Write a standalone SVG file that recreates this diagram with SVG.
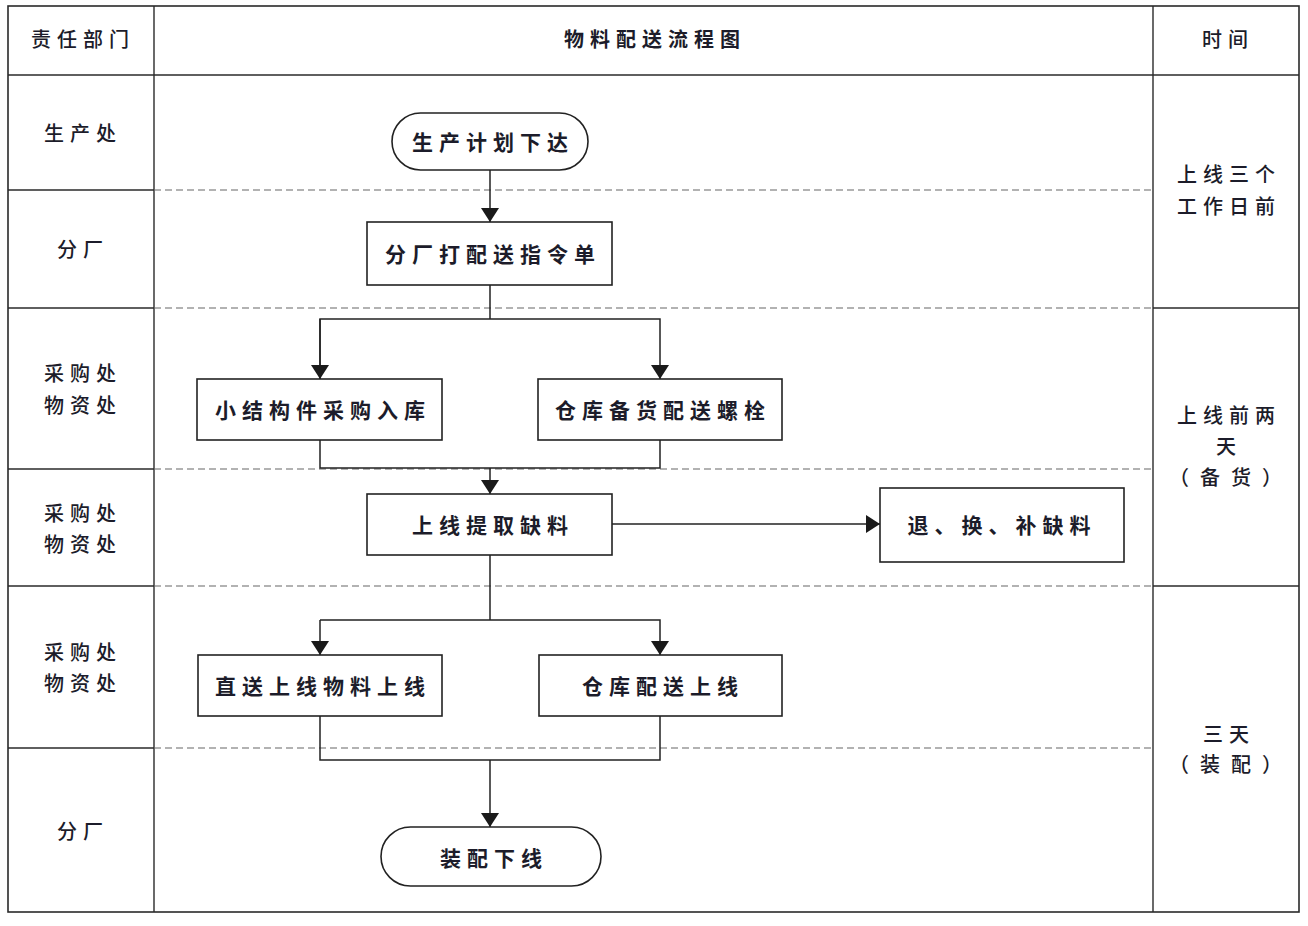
<svg xmlns="http://www.w3.org/2000/svg" width="1308" height="926" viewBox="0 0 1308 926">
<style>
.frame{fill:none;stroke:#2a2a2a;stroke-width:1.6}
.grid{stroke:#2a2a2a;stroke-width:1.4}
.dash{stroke:#666;stroke-width:1.2;stroke-dasharray:7 4}
.box{fill:#fff;stroke:#222;stroke-width:1.6}
.conn{fill:none;stroke:#222;stroke-width:1.5}
text{font-family:"Noto Sans CJK SC","Noto Sans CJK JP",sans-serif;fill:#1c1c2a;dominant-baseline:central;text-anchor:middle}
.lbl{font-size:21px;font-weight:700;letter-spacing:6px}
.side{font-size:20px;font-weight:500;letter-spacing:6px}
.hdr{font-size:20px;font-weight:700;letter-spacing:6px}
.paren{font-size:20px;font-weight:500;letter-spacing:11px}
</style>
<defs>
<marker id="arr" viewBox="0 0 14 18" refX="14" refY="9" markerWidth="14" markerHeight="18" markerUnits="userSpaceOnUse" orient="auto">
<path d="M0,0 L14,9 L0,18 Z" fill="#1a1a1a"/>
</marker>
</defs>
<rect width="1308" height="926" fill="#fff"/>
<g id="table">
<rect class="frame" x="8" y="6" width="1291" height="906"/>
<line class="grid" x1="154" y1="6" x2="154" y2="912"/>
<line class="grid" x1="1153" y1="6" x2="1153" y2="912"/>
<line class="grid" x1="8" y1="75" x2="1299" y2="75"/>
<line class="grid" x1="8" y1="190" x2="154" y2="190"/>
<line class="grid" x1="8" y1="308" x2="154" y2="308"/>
<line class="grid" x1="8" y1="469" x2="154" y2="469"/>
<line class="grid" x1="8" y1="586" x2="154" y2="586"/>
<line class="grid" x1="8" y1="748" x2="154" y2="748"/>
<line class="grid" x1="1153" y1="308" x2="1299" y2="308"/>
<line class="grid" x1="1153" y1="586" x2="1299" y2="586"/>
<line class="dash" x1="154" y1="190" x2="1153" y2="190"/>
<line class="dash" x1="154" y1="308" x2="1153" y2="308"/>
<line class="dash" x1="154" y1="469" x2="1153" y2="469"/>
<line class="dash" x1="154" y1="586" x2="1153" y2="586"/>
<line class="dash" x1="154" y1="748" x2="1153" y2="748"/>
<text class="side" x="83" y="38">责任部门</text>
<text class="hdr" x="655" y="38">物料配送流程图</text>
<text class="side" x="1228" y="38">时间</text>
<text class="side" x="83" y="132">生产处</text>
<text class="side" x="83" y="248">分厂</text>
<text class="side" x="83" y="372">采购处</text>
<text class="side" x="83" y="404">物资处</text>
<text class="side" x="83" y="512">采购处</text>
<text class="side" x="83" y="543">物资处</text>
<text class="side" x="83" y="651">采购处</text>
<text class="side" x="83" y="682">物资处</text>
<text class="side" x="83" y="830">分厂</text>
<text class="side" x="1229" y="173">上线三个</text>
<text class="side" x="1229" y="205">工作日前</text>
<text class="side" x="1229" y="414">上线前两</text>
<text class="side" x="1229" y="445">天</text>
<text class="paren" x="1231" y="476">（备货）</text>
<text class="side" x="1229" y="733">三天</text>
<text class="paren" x="1231" y="763">（装配）</text>
</g>
<g id="connectors">
<path class="conn" d="M490,170 V222" marker-end="url(#arr)"/>
<path class="conn" d="M490,285 V319"/>
<path class="conn" d="M320,379 V319 H660 V379" marker-end="url(#arr)"/>
<path class="conn" d="M320,319 V379" marker-end="url(#arr)"/>
<path class="conn" d="M320,440 V468 H660 V440"/>
<path class="conn" d="M490,468 V494" marker-end="url(#arr)"/>
<path class="conn" d="M612,524 H880" marker-end="url(#arr)"/>
<path class="conn" d="M490,555 V620"/>
<path class="conn" d="M320,620 H660 V655" marker-end="url(#arr)"/>
<path class="conn" d="M320,620 V655" marker-end="url(#arr)"/>
<path class="conn" d="M320,716 V760 H660 V716"/>
<path class="conn" d="M490,760 V827" marker-end="url(#arr)"/>
</g>
<g id="n_start"><rect class="box" x="392" y="113" width="196" height="57" rx="28.5"/><text class="lbl" x="493" y="141">生产计划下达</text></g>
<g id="n_order"><rect class="box" x="367" y="222" width="245" height="63"/><text class="lbl" x="493" y="253">分厂打配送指令单</text></g>
<g id="n_small"><rect class="box" x="197" y="379" width="245" height="61"/><text class="lbl" x="323" y="409">小结构件采购入库</text></g>
<g id="n_bolt"><rect class="box" x="538" y="379" width="244" height="61"/><text class="lbl" x="663" y="409">仓库备货配送螺栓</text></g>
<g id="n_fetch"><rect class="box" x="367" y="494" width="245" height="61"/><text class="lbl" x="493" y="524">上线提取缺料</text></g>
<g id="n_return"><rect class="box" x="880" y="488" width="244" height="74"/><text class="lbl" x="1002" y="524">退、换、补缺料</text></g>
<g id="n_direct"><rect class="box" x="198" y="655" width="244" height="61"/><text class="lbl" x="323" y="685">直送上线物料上线</text></g>
<g id="n_wh"><rect class="box" x="539" y="655" width="243" height="61"/><text class="lbl" x="663" y="685">仓库配送上线</text></g>
<g id="n_end"><rect class="box" x="381" y="827" width="220" height="59" rx="29.5"/><text class="lbl" x="494" y="857">装配下线</text></g>
</svg>
